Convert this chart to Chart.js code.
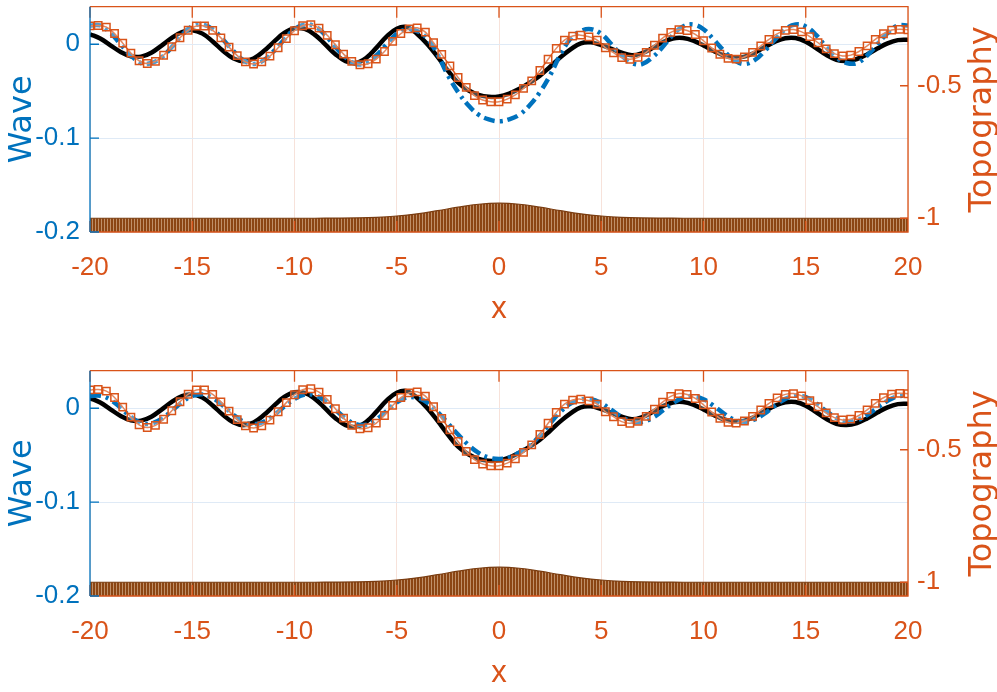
<!DOCTYPE html>
<html>
<head>
<meta charset="utf-8">
<script src="https://cdn.jsdelivr.net/npm/chart.js@4.4.1/dist/chart.umd.min.js"></script>
<style>
  html, body { margin: 0; padding: 0; background: #fff; overflow: hidden; width: 997px; height: 692px; }
  .panel { position: absolute; left: 0; width: 997px; height: 346px; }
  #top { top: 0; }
  #bottom { top: 364px; }
</style>
</head>
<body>
<div class="panel" id="top"><canvas id="waveTop" width="997" height="346"></canvas></div>
<div class="panel" id="bottom"><canvas id="waveBottom" width="997" height="346"></canvas></div>
<script>
// tick positions
const xTicks = [-20, -15, -10, -5, 0, 5, 10, 15, 20];
const waveTicks = [-0.2, -0.1, 0];
const topoTicks = [-1, -0.5];

// x grids of the curves
const xHalf = [-20, -19.5, -19, -18.5, -18, -17.5, -17, -16.5, -16, -15.5, -15, -14.5, -14, -13.5, -13, -12.5, -12, -11.5, -11, -10.5,
  -10, -9.5, -9, -8.5, -8, -7.5, -7, -6.5, -6, -5.5, -5, -4.5, -4, -3.5, -3, -2.5, -2, -1.5, -1, -0.5,
  0, 0.5, 1, 1.5, 2, 2.5, 3, 3.5, 4, 4.5, 5, 5.5, 6, 6.5, 7, 7.5, 8, 8.5, 9, 9.5,
  10, 10.5, 11, 11.5, 12, 12.5, 13, 13.5, 14, 14.5, 15, 15.5, 16, 16.5, 17, 17.5, 18, 18.5, 19, 19.5, 20];
const xMarks = [-20, -19.6, -19.2, -18.8, -18.4, -18, -17.6, -17.2, -16.8, -16.4, -16, -15.6, -15.2, -14.8, -14.4, -14, -13.6, -13.2, -12.8, -12.4,
  -12, -11.6, -11.2, -10.8, -10.4, -10, -9.6, -9.2, -8.8, -8.4, -8, -7.6, -7.2, -6.8, -6.4, -6, -5.6, -5.2, -4.8, -4.4,
  -4, -3.6, -3.2, -2.8, -2.4, -2, -1.6, -1.2, -0.8, -0.4, 0, 0.4, 0.8, 1.2, 1.6, 2, 2.4, 2.8, 3.2, 3.6,
  4, 4.4, 4.8, 5.2, 5.6, 6, 6.4, 6.8, 7.2, 7.6, 8, 8.4, 8.8, 9.2, 9.6, 10, 10.4, 10.8, 11.2, 11.6,
  12, 12.4, 12.8, 13.2, 13.6, 14, 14.4, 14.8, 15.2, 15.6, 16, 16.4, 16.8, 17.2, 17.6, 18, 18.4, 18.8, 19.2, 19.6, 20];
const xTopo = [-20, -19, -18, -17, -16, -15, -14, -13, -12, -11, -10, -9, -8, -7, -6, -5, -4, -3, -2, -1,
  0, 1, 2, 3, 4, 5, 6, 7, 8, 9, 10, 11, 12, 13, 14, 15, 16, 17, 18, 19, 20];

// topography (right axis)
const topography = [-1, -1, -1, -1, -1, -1, -1, -1, -1, -1, -1, -1, -0.9996, -0.9987, -0.9965, -0.9917, -0.9834, -0.9715, -0.9582, -0.9472,
  -0.943, -0.9472, -0.9582, -0.9715, -0.9834, -0.9917, -0.9965, -0.9987, -0.9996, -1, -1, -1, -1, -1, -1, -1, -1, -1, -1, -1, -1];

// reference wave (orange squares), same in both panels
const refWave = [0.0195, 0.0200, 0.0183, 0.0115, 0.0012, -0.0095, -0.0176, -0.0205, -0.0182, -0.0117, -0.0027, 0.0069, 0.0149, 0.0194, 0.0194, 0.0148, 0.0068, -0.0030, -0.0121, -0.0187,
  -0.0210, -0.0188, -0.0126, -0.0037, 0.0060, 0.0144, 0.0197, 0.0208, 0.0172, 0.0095, -0.0005, -0.0105, -0.0182, -0.0218, -0.0208, -0.0158, -0.0077, 0.0030, 0.0114, 0.0164,
  0.0175, 0.0129, 0.0016, -0.0108, -0.0231, -0.0354, -0.0460, -0.0548, -0.0594, -0.0612, -0.0612, -0.0584, -0.0540, -0.0470, -0.0390, -0.0280, -0.0160, -0.0044, 0.0044, 0.0087,
  0.0097, 0.0079, 0.0044, -0.0037, -0.0090, -0.0143, -0.0160, -0.0140, -0.0086, -0.0011, 0.0066, 0.0127, 0.0156, 0.0147, 0.0104, 0.0037, -0.0040, -0.0107, -0.0150, -0.0159,
  -0.0136, -0.0086, -0.0019, 0.0051, 0.0111, 0.0148, 0.0156, 0.0132, 0.0082, 0.0016, -0.0050, -0.0100, -0.0124, -0.0116, -0.0077, -0.0017, 0.0052, 0.0112, 0.0151, 0.0159, 0.0155];

// black solid wave, same in both panels
const blackWave = [0.0107, 0.0061, -0.0011, -0.0082, -0.0128, -0.0132, -0.0090, -0.0014, 0.0069, 0.0130, 0.0150, 0.0113, 0.0030, -0.0070, -0.0149, -0.0180, -0.0151, -0.0073, 0.0028, 0.0120,
  0.0170, 0.0164, 0.0100, -0.0001, -0.0106, -0.0180, -0.0199, -0.0146, -0.0038, 0.0081, 0.0166, 0.0183, 0.0110, 0.0000, -0.0135, -0.0280, -0.0410, -0.0490, -0.0540, -0.0560,
  -0.0555, -0.0525, -0.0475, -0.0410, -0.0335, -0.0240, -0.0140, -0.0055, 0.0010, 0.0020, -0.0010, -0.0050, -0.0090, -0.0118, -0.0095, -0.0041, 0.0021, 0.0062, 0.0067, 0.0039,
  -0.0013, -0.0072, -0.0120, -0.0142, -0.0132, -0.0090, -0.0030, 0.0027, 0.0064, 0.0066, 0.0028, -0.0040, -0.0113, -0.0166, -0.0179, -0.0157, -0.0108, -0.0046, 0.0010, 0.0044, 0.0049];

// blue dash-dot wave, top panel
const blueTop = [0.020, 0.020, 0.012, 0.000, -0.012, -0.020, -0.020, -0.014, -0.003, 0.010, 0.019, 0.021, 0.016, 0.005, -0.007, -0.017, -0.021, -0.017, -0.007, 0.005,
  0.016, 0.021, 0.019, 0.010, -0.003, -0.014, -0.021, -0.020, -0.012, 0.000, 0.011, 0.016, 0.014, 0.006, -0.011, -0.033, -0.051, -0.065, -0.075, -0.080,
  -0.082, -0.080, -0.075, -0.065, -0.051, -0.033, -0.011, 0.006, 0.014, 0.016, 0.011, 0.000, -0.012, -0.020, -0.021, -0.014, -0.003, 0.010, 0.019, 0.021,
  0.016, 0.005, -0.007, -0.017, -0.021, -0.017, -0.007, 0.005, 0.016, 0.021, 0.019, 0.010, -0.003, -0.014, -0.020, -0.020, -0.012, 0.000, 0.012, 0.020, 0.020];

// blue dash-dot wave, bottom panel
const blueBottom = [0.0130, 0.0134, 0.0091, 0.0004, -0.0092, -0.0156, -0.0162, -0.0114, -0.0028, 0.0065, 0.0132, 0.0149, 0.0110, 0.0028, -0.0067, -0.0142, -0.0170, -0.0144, -0.0073, 0.0018,
  0.0100, 0.0146, 0.0139, 0.0079, -0.0015, -0.0109, -0.0169, -0.0175, -0.0121, -0.0030, 0.0061, 0.0115, 0.0110, 0.0060, -0.0040, -0.0160, -0.0280, -0.0390, -0.0475, -0.0525,
  -0.0540, -0.0525, -0.0470, -0.0400, -0.0290, -0.0160, -0.0040, 0.0050, 0.0093, 0.0095, 0.0054, -0.0018, -0.0092, -0.0141, -0.0146, -0.0103, -0.0027, 0.0055, 0.0114, 0.0129,
  0.0095, 0.0026, -0.0056, -0.0121, -0.0145, -0.0120, -0.0055, 0.0029, 0.0100, 0.0134, 0.0118, 0.0055, -0.0030, -0.0104, -0.0141, -0.0127, -0.0073, 0.0005, 0.0079, 0.0127, 0.0133];

const blue = '#0072BD';
const orange = '#D95319';
const tickFamily = "'Liberation Sans', Arial, sans-serif";
const titleFamily = "'DejaVu Sans', sans-serif";

function pairs(xs, ys) {
    return xs.map((x, i) => ({ x: x, y: ys[i] }));
}

function stripes(ctx) {
    const c = document.createElement('canvas');
    c.width = 3;
    c.height = 1;
    const g = c.getContext('2d');
    g.fillStyle = '#8b4513';
    g.fillRect(0, 0, 2, 1);
    g.fillStyle = '#bf8f68';
    g.fillRect(2, 0, 1, 1);
    return ctx.createPattern(c, 'repeat');
}

// drop the label overhang padding so the plot box sits where we want it
function noPad(s) {
    s.paddingTop = 0;
    s.paddingBottom = 0;
    s.paddingLeft = 0;
    s.paddingRight = 0;
}

const framePlugin = {
    id: 'frame',
    afterDatasetsDraw(chart) {
        const { ctx, chartArea: a, scales } = chart;
        ctx.save();
        ctx.lineWidth = 1.3;

        ctx.strokeStyle = orange;
        ctx.beginPath();
        ctx.moveTo(a.left, a.top);
        ctx.lineTo(a.right, a.top);
        ctx.lineTo(a.right, a.bottom);
        ctx.lineTo(a.left, a.bottom);
        xTicks.forEach(v => {
            const px = scales.x.getPixelForValue(v);
            ctx.moveTo(px, a.bottom);
            ctx.lineTo(px, a.bottom - 11);
            ctx.moveTo(px, a.top);
            ctx.lineTo(px, a.top + 11);
        });
        topoTicks.forEach(v => {
            const py = scales.yR.getPixelForValue(v);
            ctx.moveTo(a.right, py);
            ctx.lineTo(a.right - 8, py);
        });
        ctx.stroke();

        ctx.strokeStyle = blue;
        ctx.beginPath();
        ctx.moveTo(a.left, a.top);
        ctx.lineTo(a.left, a.bottom);
        waveTicks.forEach(v => {
            const py = scales.y.getPixelForValue(v);
            ctx.moveTo(a.left, py);
            ctx.lineTo(a.left + 9, py);
        });
        ctx.stroke();

        // right axis title reads bottom to top
        ctx.translate(991, (a.top + a.bottom) / 2);
        ctx.rotate(-Math.PI / 2);
        ctx.font = "32px " + titleFamily;
        ctx.fillStyle = orange;
        ctx.textAlign = 'center';
        ctx.textBaseline = 'alphabetic';
        ctx.fillText('Topography', 0, 0);
        ctx.restore();
    }
};

function makeChart(id, blueWave) {
    const ctx = document.getElementById(id).getContext('2d');
    return new Chart(ctx, {
        type: 'line',
        data: {
            datasets: [
                {
                    label: 'Topography',
                    data: pairs(xTopo, topography),
                    yAxisID: 'yR',
                    fill: 'start',
                    backgroundColor: stripes(ctx),
                    borderColor: '#7a3c10',
                    borderWidth: 1.2,
                    pointRadius: 0,
                    tension: 0.4,
                    order: 4
                },
                {
                    label: 'black',
                    data: pairs(xHalf, blackWave),
                    yAxisID: 'y',
                    borderColor: '#000000',
                    borderWidth: 4.5,
                    pointRadius: 0,
                    fill: false,
                    tension: 0.4,
                    order: 3
                },
                {
                    label: 'blue',
                    data: pairs(xHalf, blueWave),
                    yAxisID: 'y',
                    borderColor: blue,
                    borderWidth: 4.5,
                    borderDash: [11, 5, 3, 5],
                    pointRadius: 0,
                    fill: false,
                    tension: 0.4,
                    order: 2
                },
                {
                    label: 'reference',
                    data: pairs(xMarks, refWave),
                    yAxisID: 'y',
                    borderColor: orange,
                    borderWidth: 1.5,
                    pointStyle: 'rect',
                    pointRadius: 5.2,
                    pointBorderWidth: 1.5,
                    pointBorderColor: orange,
                    pointBackgroundColor: 'rgba(255,255,255,0.3)',
                    fill: false,
                    tension: 0.3,
                    order: 1
                }
            ]
        },
        options: {
            responsive: false,
            animation: false,
            events: [],
            layout: { padding: { top: 4, left: 0, right: 0, bottom: 0 } },
            plugins: { legend: { display: false }, tooltip: { enabled: false } },
            scales: {
                x: {
                    type: 'linear',
                    min: -20,
                    max: 20,
                    afterBuildTicks: s => { s.ticks = xTicks.map(v => ({ value: v })); },
                    afterFit: s => { s.height = 114; noPad(s); },
                    grid: { color: '#f7e2da', drawTicks: false },
                    border: { display: false },
                    ticks: {
                        color: orange,
                        padding: 20,
                        maxRotation: 0,
                        autoSkip: false,
                        font: { family: tickFamily, size: 26 },
                        callback: v => String(v)
                    },
                    title: {
                        display: true,
                        text: 'x',
                        color: orange,
                        font: { family: tickFamily, size: 31 },
                        padding: { top: 0, bottom: 18 }
                    }
                },
                y: {
                    position: 'left',
                    min: -0.2,
                    max: 0.04,
                    afterBuildTicks: s => { s.ticks = waveTicks.map(v => ({ value: v })); },
                    afterFit: s => { s.width = 90; noPad(s); },
                    grid: { color: '#dfeaf6', drawTicks: false },
                    border: { display: false },
                    ticks: {
                        color: blue,
                        padding: 10,
                        font: { family: tickFamily, size: 26 },
                        callback: v => String(v)
                    },
                    title: {
                        display: true,
                        text: 'Wave',
                        color: blue,
                        font: { family: titleFamily, size: 32 },
                        padding: { top: 3, bottom: 0 }
                    }
                },
                yR: {
                    position: 'right',
                    min: -1.052,
                    max: -0.2015,
                    afterBuildTicks: s => { s.ticks = topoTicks.map(v => ({ value: v })); },
                    afterFit: s => { s.width = 89; noPad(s); },
                    grid: { display: false, drawTicks: false },
                    border: { display: false },
                    ticks: {
                        color: orange,
                        padding: 9,
                        font: { family: tickFamily, size: 26 },
                        callback: v => String(v)
                    }
                }
            }
        },
        plugins: [framePlugin]
    });
}

makeChart('waveTop', blueTop);
makeChart('waveBottom', blueBottom);
</script>
</body>
</html>
